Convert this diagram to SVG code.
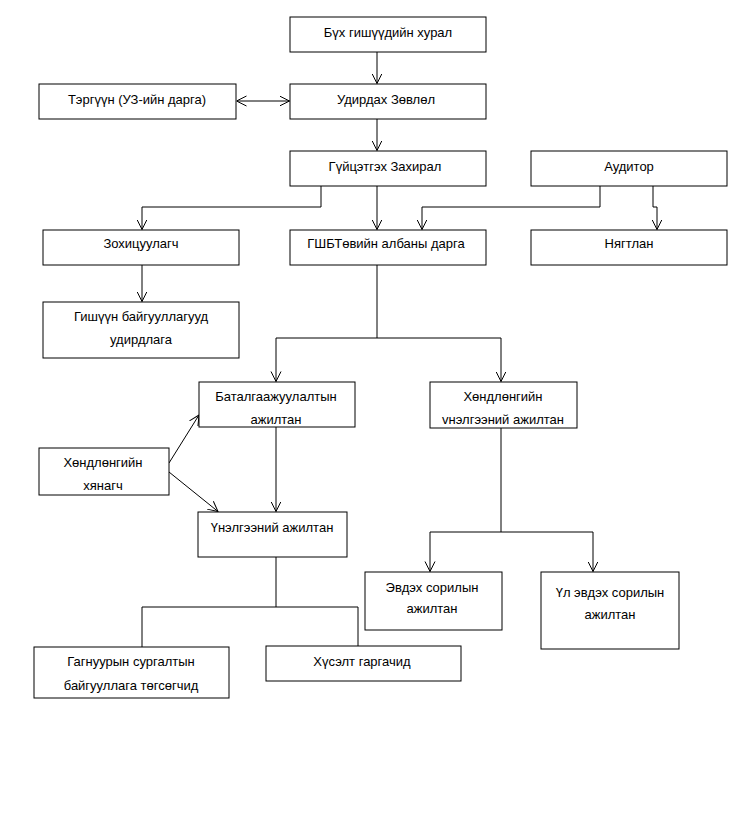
<svg xmlns="http://www.w3.org/2000/svg" width="755" height="820" viewBox="0 0 755 820">
<style>
rect{fill:#fff;stroke:#000;stroke-width:1}
text{font-family:"Liberation Sans",Arial,sans-serif;font-size:13px;fill:#000;text-anchor:middle}
.c path,.c line{fill:none;stroke:#000;stroke-width:1}
</style>
<defs>
<marker id="a" markerWidth="12" markerHeight="12" refX="10" refY="6" orient="auto" markerUnits="userSpaceOnUse">
<path d="M0,1 L10,6 L0,11" fill="none" stroke="#000" stroke-width="1"/>
</marker>
<marker id="s" markerWidth="12" markerHeight="12" refX="0" refY="6" orient="auto" markerUnits="userSpaceOnUse">
<path d="M10,1 L0,6 L10,11" fill="none" stroke="#000" stroke-width="1"/>
</marker>
</defs>
<rect x="0" y="0" width="755" height="820" style="stroke:none"/>
<g class="c" id="connectors">
<line x1="377" y1="52" x2="377" y2="83.5" marker-end="url(#a)"/>
<line x1="236.5" y1="101" x2="289.5" y2="101" marker-start="url(#s)" marker-end="url(#a)"/>
<line x1="377" y1="119" x2="377" y2="150.5" marker-end="url(#a)"/>
<path d="M321,186 V207 H142 V229.5" marker-end="url(#a)"/>
<line x1="377" y1="186" x2="377" y2="229.5" marker-end="url(#a)"/>
<path d="M600,186 V207 H422 V229.5" marker-end="url(#a)"/>
<path d="M653,186 V207 H657 V229.5" marker-end="url(#a)"/>
<line x1="142" y1="265" x2="142" y2="301.5" marker-end="url(#a)"/>
<path d="M377,265 V338"/>
<path d="M276,381.5 V338 H501 V381.5" marker-start="url(#s)" marker-end="url(#a)"/>
<line x1="276" y1="427" x2="276" y2="511.5" marker-end="url(#a)"/>
<line x1="169" y1="463" x2="199" y2="415" marker-end="url(#a)"/>
<line x1="169" y1="472" x2="218" y2="511.5" marker-end="url(#a)"/>
<path d="M501,428 V532"/>
<path d="M430,571.5 V532 H593 V571.5" marker-start="url(#s)" marker-end="url(#a)"/>
<path d="M276,557 V607"/>
<path d="M142,647 V607 H358 V646"/>
</g>
<g id="n1"><rect x="290" y="17" width="196" height="35"/><text x="388" y="37">Бүх гишүүдийн хурал</text></g>
<g id="n2"><rect x="39" y="84" width="197" height="35"/><text x="137" y="104">Тэргүүн (УЗ-ийн дарга)</text></g>
<g id="n3"><rect x="290" y="84" width="196" height="35"/><text x="386" y="104">Удирдах Зөвлөл</text></g>
<g id="n4"><rect x="290" y="151" width="196" height="35"/><text x="385" y="171">Гүйцэтгэх Захирал</text></g>
<g id="n5"><rect x="531" y="151" width="196" height="35"/><text x="629" y="171">Аудитор</text></g>
<g id="n6"><rect x="43" y="230" width="196" height="35"/><text x="141" y="248">Зохицуулагч</text></g>
<g id="n7"><rect x="290" y="230" width="196" height="35"/><text x="386" y="248">ГШБТөвийн албаны дарга</text></g>
<g id="n8"><rect x="531" y="230" width="196" height="35"/><text x="629" y="248">Нягтлан</text></g>
<g id="n9"><rect x="43" y="302" width="196" height="56"/><text x="141" y="321">Гишүүн байгууллагууд</text><text x="141" y="344">удирдлага</text></g>
<g id="n10"><rect x="199" y="382" width="156" height="45"/><text x="276" y="401">Баталгаажуулалтын</text><text x="276" y="424">ажилтан</text></g>
<g id="n11"><rect x="430" y="382" width="147" height="46"/><text x="503" y="401">Хөндлөнгийн</text><text x="503" y="424">vнэлгээний ажилтан</text></g>
<g id="n12"><rect x="39" y="448" width="130" height="47"/><text x="103" y="467">Хөндлөнгийн</text><text x="103" y="490">хянагч</text></g>
<g id="n13"><rect x="198" y="512" width="149" height="45"/><text x="272" y="532">Үнэлгээний ажилтан</text></g>
<g id="n14"><rect x="365" y="572" width="137" height="58"/><text x="432" y="592">Эвдэх сорилын</text><text x="432" y="613">ажилтан</text></g>
<g id="n15"><rect x="541" y="572" width="138" height="77"/><text x="610" y="597">Үл эвдэх сорилын</text><text x="610" y="619">ажилтан</text></g>
<g id="n16"><rect x="34" y="647" width="195" height="51"/><text x="131" y="666">Гагнуурын сургалтын</text><text x="131" y="690">байгууллага төгсөгчид</text></g>
<g id="n17"><rect x="266" y="646" width="195" height="35"/><text x="362" y="666">Хүсэлт гаргачид</text></g>
</svg>
